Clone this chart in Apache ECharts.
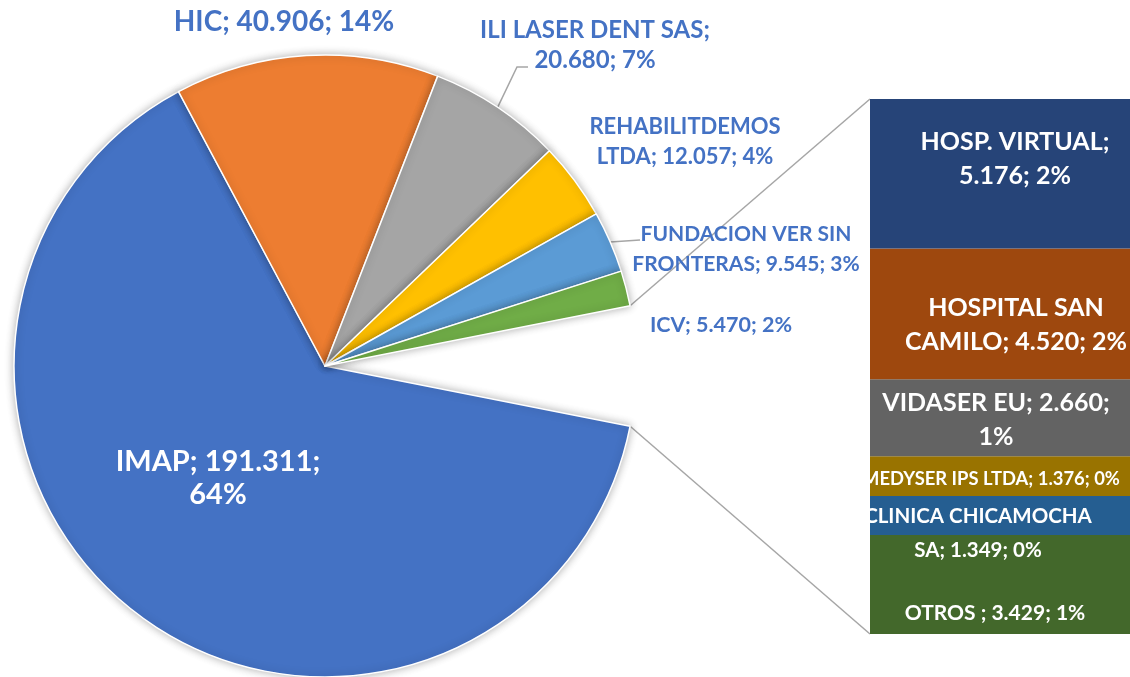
<!DOCTYPE html>
<html lang="es">
<head>
<meta charset="utf-8">
<title>Bar of pie</title>
<script src="https://cdn.jsdelivr.net/npm/echarts@6/dist/echarts.min.js"></script>
<style>
  html, body { margin: 0; padding: 0; background: #fff; }
  #chart { width: 1130px; height: 677px; }
</style>
</head>
<body>
<div id="chart"></div>
<script>
// pie slices (the "others" group is broken out into the bar on the right)
const pieNames = ['IMAP', 'HIC', 'ILI LASER DENT SAS', 'REHABILITDEMOS LTDA', 'FUNDACION VER SIN FRONTERAS', 'ICV'];
const pieValues = [191311, 40906, 20680, 12057, 9545, 5470];

// bar segments, bottom to top
const barNames = ['OTROS ', 'CLINICA CHICAMOCHA SA', 'MEDYSER IPS LTDA', 'VIDASER EU', 'HOSPITAL SAN CAMILO', 'HOSP. VIRTUAL'];
const barValues = [3429, 1349, 1376, 2660, 4520, 5176];

const pieColors = ['#4472C4', '#ED7D31', '#A5A5A5', '#FFC000', '#5B9BD5', '#70AD47'];
const barColors = ['#43682B', '#255E91', '#997300', '#636363', '#9E480E', '#264478'];

const FONT = 'Lato';
const center = [325, 366];
const radius = 311;

// where each label wraps (number of words on first line)
const wrapAfter = {
  'IMAP': 2, 'ILI LASER DENT SAS': 4, 'REHABILITDEMOS LTDA': 1, 'FUNDACION VER SIN FRONTERAS': 3,
  'HOSP. VIRTUAL': 2, 'HOSPITAL SAN CAMILO': 2, 'VIDASER EU': 3, 'CLINICA CHICAMOCHA SA': 2
};
// pie label centres and font sizes
const labelPos = {
  'IMAP': [218, 478], 'HIC': [284, 22], 'ILI LASER DENT SAS': [595, 45],
  'REHABILITDEMOS LTDA': [685, 142], 'FUNDACION VER SIN FRONTERAS': [746, 249], 'ICV': [721, 325]
};
const pieFontSize = {
  'IMAP': 29, 'HIC': 28, 'ILI LASER DENT SAS': 24, 'REHABILITDEMOS LTDA': 22,
  'FUNDACION VER SIN FRONTERAS': 21, 'ICV': 21.5
};
const leaders = {
  'ILI LASER DENT SAS': [[517, 67], [528, 67]],
  'FUNDACION VER SIN FRONTERAS': [[640, 240]]
};
// bar label tweaks: [offset, fontSize]
const barLabelStyle = {
  'OTROS ': [[-5, 29], 21], 'CLINICA CHICAMOCHA SA': [[-22, 18], 20.5], 'MEDYSER IPS LTDA': [[-9, 3], 18.4],
  'VIDASER EU': [[-4, 2], 25], 'HOSPITAL SAN CAMILO': [[16, 11], 25], 'HOSP. VIRTUAL': [[15, -15], 25]
};

const otherTotal = barValues.reduce((a, b) => a + b, 0);
const total = pieValues.reduce((a, b) => a + b, 0) + otherTotal;
const otherAngle = 360 * otherTotal / total;

function fmt(n) {
  return String(n).replace(/\B(?=(\d{3})+(?!\d))/g, '.');
}
function labelText(name, v) {
  const s = name + '; ' + fmt(v) + '; ' + Math.round(100 * v / total) + '%';
  const k = wrapAfter[name];
  if (!k) return s;
  const w = s.split(' ');
  return w.slice(0, k).join(' ') + '\n' + w.slice(k).join(' ');
}
function piePoint(deg) {
  const a = deg * Math.PI / 180;
  return [center[0] + radius * Math.cos(a), center[1] - radius * Math.sin(a)];
}

// mid angle of each slice, for leader lines
const midAngle = {};
let acc = otherAngle / 2 - otherAngle;
pieNames.forEach((n, i) => {
  const span = 360 * pieValues[i] / total;
  midAngle[n] = acc - span / 2;
  acc -= span;
});

const pieData = [{
  name: 'otros', value: otherTotal,
  itemStyle: { color: 'rgba(0,0,0,0)', borderWidth: 0, shadowBlur: 0 },
  label: { show: false }, labelLine: { show: false }
}].concat(pieNames.map((n, i) => ({
  name: n, value: pieValues[i],
  itemStyle: { color: pieColors[i] },
  label: n === 'IMAP'
    ? { position: 'inside', color: '#fff', fontSize: pieFontSize[n], lineHeight: 33 }
    : { fontSize: pieFontSize[n] },
  labelLine: { show: !!leaders[n] }
})));

const chart = echarts.init(document.getElementById('chart'));

const series = [{
  type: 'pie',
  center: center,
  radius: radius,
  startAngle: otherAngle / 2,
  clockwise: true,
  avoidLabelOverlap: false,
  animation: false,
  itemStyle: {
    borderColor: '#fff', borderWidth: 1.5,
    shadowBlur: 8, shadowColor: 'rgba(0,0,0,0.3)'
  },
  label: {
    show: true, position: 'outside',
    formatter: p => labelText(p.name, p.value),
    color: '#4472C4', fontFamily: FONT, fontWeight: 'bold', fontSize: 20, lineHeight: 30
  },
  labelLine: { lineStyle: { color: '#a6a6a6', width: 1.5 } },
  labelLayout: function (params) {
    const name = pieData[params.dataIndex].name;
    const p = labelPos[name];
    if (!p) return {};
    const out = { x: p[0], y: p[1], align: 'center', verticalAlign: 'middle' };
    if (leaders[name]) {
      out.labelLinePoints = [piePoint(midAngle[name])].concat(leaders[name]);
    }
    return out;
  },
  emphasis: { disabled: true },
  data: pieData
}];

barNames.forEach((n, i) => {
  const st = barLabelStyle[n];
  series.push({
    type: 'bar',
    name: n,
    stack: 'otros',
    barWidth: '100%',
    animation: false,
    data: [barValues[i]],
    itemStyle: { color: barColors[i] },
    label: {
      show: true, position: 'inside',
      formatter: p => labelText(n, p.value),
      color: '#fff', fontFamily: FONT, fontWeight: 'bold',
      fontSize: st[1], lineHeight: 34, offset: st[0]
    },
    emphasis: { disabled: true }
  });
});

const barLeft = 870, barTop = 99, barHeight = 535;
const topPt = piePoint(otherAngle / 2);
const botPt = piePoint(-otherAngle / 2);

chart.setOption({
  backgroundColor: '#fff',
  textStyle: { fontFamily: FONT },
  grid: { left: barLeft, top: barTop, width: 270, height: barHeight },
  xAxis: { type: 'category', data: ['otros'], show: false },
  yAxis: { type: 'value', min: 0, max: otherTotal, show: false },
  series: series,
  graphic: [
    { type: 'line', z: 0, shape: { x1: barLeft, y1: barTop, x2: topPt[0], y2: topPt[1] }, style: { stroke: '#a6a6a6', lineWidth: 1.5 } },
    { type: 'line', z: 0, shape: { x1: barLeft, y1: barTop + barHeight, x2: botPt[0], y2: botPt[1] }, style: { stroke: '#a6a6a6', lineWidth: 1.5 } }
  ]
});

window.addEventListener('resize', function () {
  chart.resize();
});
</script>
</body>
</html>
